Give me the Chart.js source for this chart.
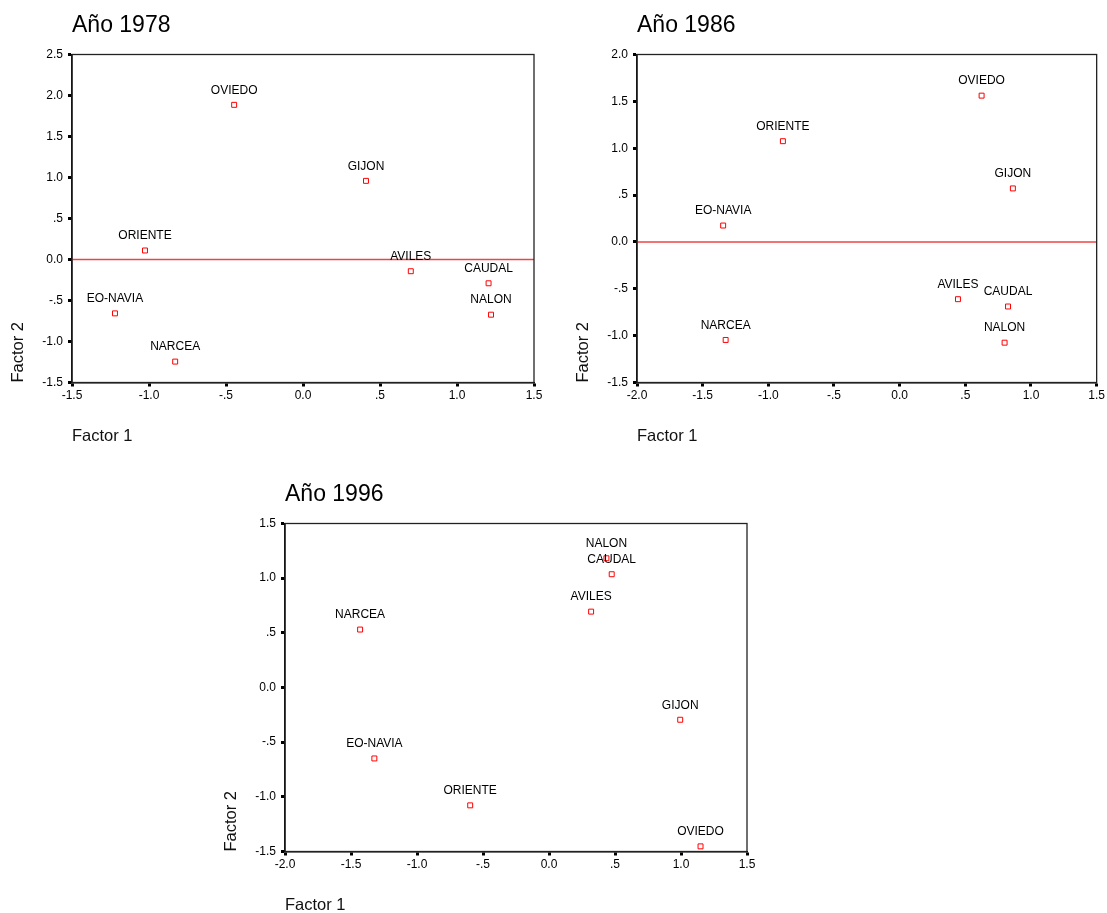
<!DOCTYPE html>
<html>
<head>
<meta charset="utf-8">
<script src="https://cdn.jsdelivr.net/npm/chart.js@4"></script>
<style>
  body { margin: 0; background: #fff; overflow: hidden; }
  canvas { position: absolute; }
</style>
</head>
<body>
<canvas id="c1978" width="553" height="450" style="left:0;top:0"></canvas>
<canvas id="c1986" width="542" height="450" style="left:565px;top:0"></canvas>
<canvas id="c1996" width="553" height="450" style="left:213px;top:469px"></canvas>
<script>
const regions = ["OVIEDO", "GIJON", "ORIENTE", "AVILES", "CAUDAL", "NALON", "EO-NAVIA", "NARCEA"];

const factor1_1978 = [-0.447, 0.409, -1.026, 0.700, 1.205, 1.221, -1.221, -0.830];
const factor2_1978 = [1.886, 0.959, 0.110, -0.143, -0.290, -0.673, -0.657, -1.245];

const factor1_1986 = [0.624, 0.862, -0.889, 0.444, 0.825, 0.799, -1.344, -1.325];
const factor2_1986 = [1.561, 0.571, 1.075, -0.611, -0.689, -1.075, 0.175, -1.046];

const factor1_1996 = [1.148, 0.994, -0.597, 0.319, 0.475, 0.435, -1.323, -1.431];
const factor2_1996 = [-1.453, -0.295, -1.078, 0.694, 1.036, 1.182, -0.649, 0.530];

const xRange_1978 = [-1.5, 1.5];
const yRange_1978 = [-1.5, 2.5];
const xRange_1986 = [-2.0, 1.5];
const yRange_1986 = [-1.5, 2.0];
const xRange_1996 = [-2.0, 1.5];
const yRange_1996 = [-1.5, 1.5];

const FONT = "'Liberation Sans', Arial, sans-serif";
Chart.defaults.font.family = FONT;
Chart.defaults.color = "#000";

// SPSS style tick text: 0.0, .5, -.5, 1.0 ...
const fmtTick = (v) => {
  const r = Math.round(v * 10) / 10;
  if (r === 0) return "0.0";
  const s = Math.abs(r).toFixed(1);
  return (r < 0 ? "-" : "") + (s.startsWith("0") ? s.slice(1) : s);
};

const pointLabels = {
  id: "pointLabels",
  afterDatasetsDraw(chart) {
    const meta = chart.getDatasetMeta(0);
    const ctx = chart.ctx;
    ctx.save();
    ctx.font = "12px " + FONT;
    ctx.fillStyle = "#000";
    ctx.textAlign = "center";
    ctx.textBaseline = "middle";
    meta.data.forEach((pt, i) => {
      ctx.fillText(regions[i], pt.x, pt.y - 14.5);
    });
    ctx.restore();
  },
};

const frame = {
  id: "frame",
  afterDraw(chart) {
    const { left, top, right, bottom } = chart.chartArea;
    const ctx = chart.ctx;
    ctx.save();
    ctx.strokeStyle = "#222";
    ctx.lineWidth = 1.3;
    ctx.strokeRect(left, top, right - left, bottom - top);
    ctx.restore();
  },
};

function makeChart(id, title, xs, ys, xRange, yRange, refLine, padRight) {
  const datasets = [
    {
      data: xs.map((x, i) => ({ x, y: ys[i] })),
      pointStyle: "rect",
      pointRadius: 3.5,
      pointHoverRadius: 3.5,
      pointBorderWidth: 1,
      pointBorderColor: "#ff0000",
      pointBackgroundColor: "#fff",
    },
  ];
  if (refLine) {
    datasets.push({
      data: [{ x: xRange[0], y: 0 }, { x: xRange[1], y: 0 }],
      showLine: true,
      pointRadius: 0,
      borderColor: "#ee4444",
      borderWidth: 1.5,
    });
  }

  return new Chart(document.getElementById(id), {
    type: "scatter",
    data: { datasets },
    options: {
      responsive: false,
      animation: false,
      layout: { padding: { left: 0, top: 0, bottom: 0, right: padRight } },
      plugins: {
        legend: { display: false },
        tooltip: { enabled: false },
        title: {
          display: true,
          text: title,
          align: "start",
          fullSize: false,
          color: "#000",
          font: { size: 23, weight: "normal" },
          padding: { top: 11.7, bottom: 15.2 },
        },
      },
      scales: {
        x: {
          min: xRange[0],
          max: xRange[1],
          afterFit: (scale) => { scale.height = 67.5; },
          border: { display: true, color: "#000", width: 1.5 },
          grid: { drawOnChartArea: false, tickLength: 4, tickWidth: 3, tickColor: "#000" },
          ticks: {
            stepSize: 0.5,
            maxRotation: 0,
            padding: 2,
            font: { size: 12 },
            callback: fmtTick,
          },
          title: {
            display: true,
            text: "Factor 1",
            align: "start",
            color: "#111",
            font: { size: 16.5 },
            padding: { top: 0, bottom: 3.6 },
          },
        },
        y: {
          min: yRange[0],
          max: yRange[1],
          afterFit: (scale) => { scale.width = 72; },
          border: { display: true, color: "#000", width: 1.5 },
          grid: { drawOnChartArea: false, tickLength: 4, tickWidth: 3, tickColor: "#000" },
          ticks: {
            stepSize: 0.5,
            padding: 5,
            font: { size: 12 },
            callback: fmtTick,
          },
          title: {
            display: true,
            text: "Factor 2",
            align: "start",
            color: "#111",
            font: { size: 16.5 },
            padding: { top: 8.5, bottom: 0 },
          },
        },
      },
    },
    plugins: [pointLabels, frame],
  });
}

makeChart("c1978", "Año 1978", factor1_1978, factor2_1978, xRange_1978, yRange_1978, true, 19);
makeChart("c1986", "Año 1986", factor1_1986, factor2_1986, xRange_1986, yRange_1986, true, 9.5);
makeChart("c1996", "Año 1996", factor1_1996, factor2_1996, xRange_1996, yRange_1996, false, 19);
</script>
</body>
</html>
